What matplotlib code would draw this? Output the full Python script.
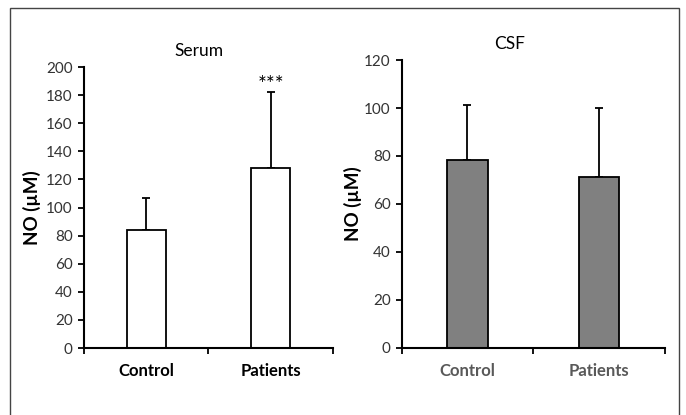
import matplotlib
matplotlib.use("Agg")
import matplotlib.pyplot as plt
from matplotlib.patches import Rectangle

plt.rcParams['font.family'] = ['Lato', 'DejaVu Sans']

groups = ["Control", "Patients"]
serum_mean = [84, 128]
serum_sd = [23, 54]
csf_mean = [78.5, 71.3]
csf_sd = [22.7, 28.7]
serum_ticks = [0, 20, 40, 60, 80, 100, 120, 140, 160, 180, 200]
csf_ticks = [0, 20, 40, 60, 80, 100, 120]


def drawPanel(ax, means, sds, color, ticks, title, title_x, xlab_color, ylab_x):
    x = list(range(len(means)))
    ax.bar(x, means, width=0.31, color=color, edgecolor="black", linewidth=1.3, zorder=2)
    ax.errorbar(x, means, yerr=[[0] * len(sds), sds], fmt="none", ecolor="black",
                elinewidth=1.3, capsize=3, capthick=1.3, zorder=1)
    ax.set_xlim(-0.5, len(means) - 0.5)
    ax.set_ylim(ticks[0], ticks[-1])
    ax.set_yticks(ticks)
    ax.set_xticks([i - 0.5 for i in range(len(means) + 1)], minor=False)
    ax.set_xticklabels([])
    ax.set_xticks(x, minor=True)
    ax.set_xticklabels(groups, minor=True, fontsize=12, fontweight="bold", color=xlab_color)
    ax.tick_params(axis="x", which="minor", length=0, pad=11)
    ax.tick_params(axis="x", which="major", length=4, width=1.3, direction="out")
    ax.tick_params(axis="y", length=4, width=1.3, labelsize=11, colors="black", labelcolor="#333333", pad=4)
    for s in ["top", "right"]:
        ax.spines[s].set_visible(False)
    for s in ["left", "bottom"]:
        ax.spines[s].set_linewidth(1.5)
    ax.set_ylabel("NO (µM)", fontsize=13.5, fontweight="bold", va="center")
    ax.yaxis.set_label_coords(ylab_x, 0.5)
    ax.set_title(title, x=title_x, fontsize=12.5, pad=8)


fig = plt.figure(figsize=(6.86, 4.15), dpi=100)
ax1 = fig.add_axes([0.1224, 0.1614, 0.363, 0.677])
ax2 = fig.add_axes([0.5856, 0.1622, 0.3834, 0.693])

drawPanel(ax1, serum_mean, serum_sd, "white", serum_ticks, "Serum", 0.46, "black", -0.209)
drawPanel(ax2, csf_mean, csf_sd, "#808080", csf_ticks, "CSF", 0.41, "#595959", -0.185)
ax1.text(1, 187, "***", ha="center", va="center", fontsize=15)

fig.patches.append(Rectangle((10 / 686, -0.01), 669 / 686, 1 - 8 / 415 + 0.01,
                             transform=fig.transFigure, fill=False,
                             edgecolor="#444444", linewidth=1))

fig.savefig("out.png", dpi=100)
